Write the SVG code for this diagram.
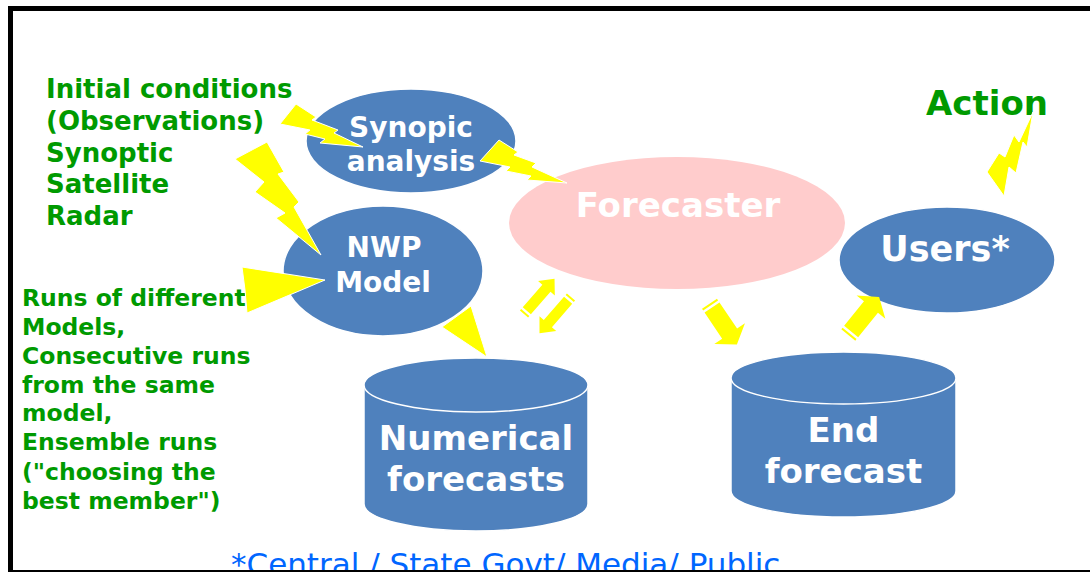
<svg xmlns="http://www.w3.org/2000/svg" width="1090" height="572" viewBox="0 0 1090 572">
<style>
.node{fill:#4F81BD;stroke:#ffffff;stroke-width:1.5}
.pink{fill:#FFCCCC;stroke:none}
.wt{font-family:"DejaVu Sans",Verdana,sans-serif;font-weight:bold;fill:#ffffff;text-anchor:middle}
.gt{font-family:"DejaVu Sans",Verdana,sans-serif;font-weight:bold;fill:#009A00}
.bolt{fill:#FFFF00;stroke:#ffffff;stroke-width:1}
.arr{fill:#FFFF00}
</style>
<defs>
<g id="sarrow">
<path d="M0,-9 h2 v18 h-2 z M4.5,-9 H36 V-18.5 L49,0 L36,18.5 V9 H4.5 Z"/>
</g>
</defs>
<rect x="0" y="0" width="1090" height="572" fill="#ffffff"/>
<!-- frame -->
<rect x="8" y="6" width="1082" height="5" fill="#000000"/>
<rect x="8" y="6" width="5" height="566" fill="#000000"/>

<!-- Text blocks -->
<g id="initial-conditions" class="gt" font-size="26">
<text x="46" y="98">Initial conditions</text>
<text x="46" y="130">(Observations)</text>
<text x="46" y="162">Synoptic</text>
<text x="46" y="193">Satellite</text>
<text x="46" y="225">Radar</text>
</g>
<g id="runs" class="gt" font-size="23.5">
<text x="22" y="306">Runs of different</text>
<text x="22" y="335">Models,</text>
<text x="22" y="364">Consecutive runs</text>
<text x="22" y="393">from the same</text>
<text x="22" y="421">model,</text>
<text x="22" y="450">Ensemble runs</text>
<text x="22" y="480">("choosing the</text>
<text x="22" y="509">best member")</text>
</g>
<g id="action"><text class="gt" x="926" y="115" font-size="34">Action</text></g>

<!-- Nodes -->
<g id="synopic">
<ellipse class="node" cx="411" cy="141" rx="105" ry="52"/>
<text class="wt" x="411" y="137" font-size="28">Synopic</text>
<text class="wt" x="411" y="171" font-size="28">analysis</text>
</g>
<g id="nwp">
<ellipse class="node" cx="383" cy="271" rx="100" ry="65"/>
<text class="wt" x="384" y="257" font-size="28">NWP</text>
<text class="wt" x="383" y="292" font-size="28">Model</text>
</g>
<g id="forecaster">
<ellipse class="pink" cx="677" cy="223" rx="168" ry="66"/>
<text class="wt" x="678" y="217" font-size="34">Forecaster</text>
</g>
<g id="users">
<ellipse class="node" cx="947" cy="260" rx="108" ry="53"/>
<text class="wt" x="945" y="261" font-size="35">Users*</text>
</g>
<g id="numerical">
<path class="node" d="M364,385 V504 A112,27 0 0 0 588,504 V385 A112,27 0 0 0 364,385 Z"/>
<ellipse class="node" cx="476" cy="385" rx="112" ry="27"/>
<text class="wt" x="476" y="450" font-size="34">Numerical</text>
<text class="wt" x="476" y="491" font-size="34">forecasts</text>
</g>
<g id="end-forecast">
<path class="node" d="M731,378 V491 A112.5,26 0 0 0 956,491 V378 A112.5,26 0 0 0 731,378 Z"/>
<ellipse class="node" cx="843.5" cy="378" rx="112.5" ry="26"/>
<text class="wt" x="843.5" y="442" font-size="34">End</text>
<text class="wt" x="843.5" y="483" font-size="34">forecast</text>
</g>

<!-- Connectors -->
<g id="connectors">
<polygon class="bolt" points="296,104 316,117 312,120 338,130 334,133 363,147 320,143 325,139 305,134 310,130 280,124"/>
<polygon class="bolt" points="267,142 284,172 278,174 299,202 294,207 321,255 276,218 285,213 255,192 264,182 235,159"/>
<polygon class="bolt" points="242,267 325,280 247,313 245,290"/>
<polygon class="bolt" points="442,327 471,306 487,357"/>
<polygon class="bolt" points="499,140 518,152 514,155 536,163 532,167 567,183 527,180 531,176 506,171 510,167 480,161"/>
<polygon class="bolt" points="1033,112 1027,147 1023,142 1016,173 1009,167 1004,196 987,172 999,153 1005,157 1014,135 1019,142"/>
<use href="#sarrow" class="arr" transform="translate(709.5,303.8) rotate(56)"/>
<use href="#sarrow" class="arr" transform="translate(848.3,335) rotate(-51)"/>
<use href="#sarrow" class="arr" transform="translate(524,314) rotate(-49) scale(0.95,0.6)"/>
<use href="#sarrow" class="arr" transform="translate(571,297) rotate(131) scale(0.98,0.6)"/>
</g>

<g id="footer"><text x="231" y="575" font-family="DejaVu Sans,Verdana,sans-serif" font-size="31" fill="#0066FF">*Central / State Govt/ Media/ Public</text></g>
<rect x="8" y="570" width="1082" height="2" fill="#000000"/>
</svg>
